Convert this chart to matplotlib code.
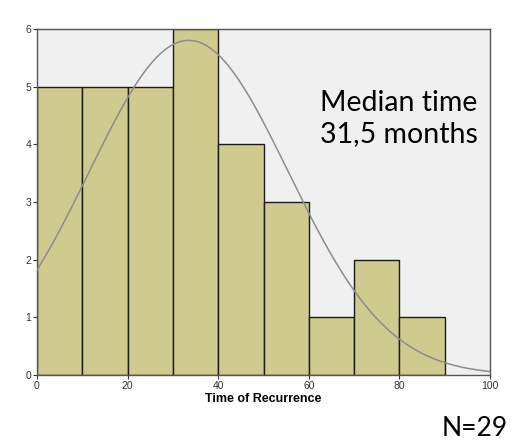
import matplotlib.pyplot as plt
import numpy as np

# histogram bins and counts
bin_edges = [0, 10, 20, 30, 40, 50, 60, 70, 80, 90]
counts = [5, 5, 5, 6, 4, 3, 1, 2, 1]

# fitted normal curve (mean, sd, count used for scaling)
curve_mean = 33.5
curve_sd = 22.0
curve_n = 32
bin_width = 10

x_ticks = [0, 20, 40, 60, 80, 100]
y_ticks = [0, 1, 2, 3, 4, 5, 6]

fig = plt.figure(figsize=(5.19, 4.45), dpi=100)
ax = fig.add_axes([37 / 519, 1 - 375 / 445, (490 - 37) / 519, (375 - 29) / 445])
ax.set_facecolor('#f0f0f0')

lefts = bin_edges[:-1]
widths = np.diff(bin_edges)
ax.bar(lefts, counts, width=widths, align='edge', color='#cfcb8e',
       edgecolor='#1a1a1a', linewidth=1.0, zorder=2)

xs = np.linspace(0, 100, 400)
ys = curve_n * bin_width / (curve_sd * np.sqrt(2 * np.pi)) * np.exp(-(xs - curve_mean) ** 2 / (2 * curve_sd ** 2))
ax.plot(xs, ys, color='#8c8c8c', linewidth=1.1, zorder=3)

ax.set_xlim(0, 100)
ax.set_ylim(0, 6)
ax.set_xticks(x_ticks)
ax.set_yticks(y_ticks)
ax.tick_params(labelsize=7.5, length=3, width=0.8, colors='#333333', pad=1)
for lbl in ax.get_xticklabels() + ax.get_yticklabels():
    lbl.set_family('Liberation Sans')
for s in ax.spines.values():
    s.set_color('#555555')
    s.set_linewidth(1.0)

ax.set_xlabel('Time of Recurrence', fontsize=9, fontweight='bold',
              family='Liberation Sans', labelpad=2)

ax.text(0.973, 0.825, 'Median time\n31,5 months', transform=ax.transAxes,
        ha='right', va='top', fontsize=20.5, family='Lato', linespacing=1.25,
        zorder=4)

fig.text(508 / 519, 1 - 441 / 445, 'N=29', ha='right', va='bottom',
         fontsize=19, family='Lato')

fig.savefig('out.png', dpi=100)
